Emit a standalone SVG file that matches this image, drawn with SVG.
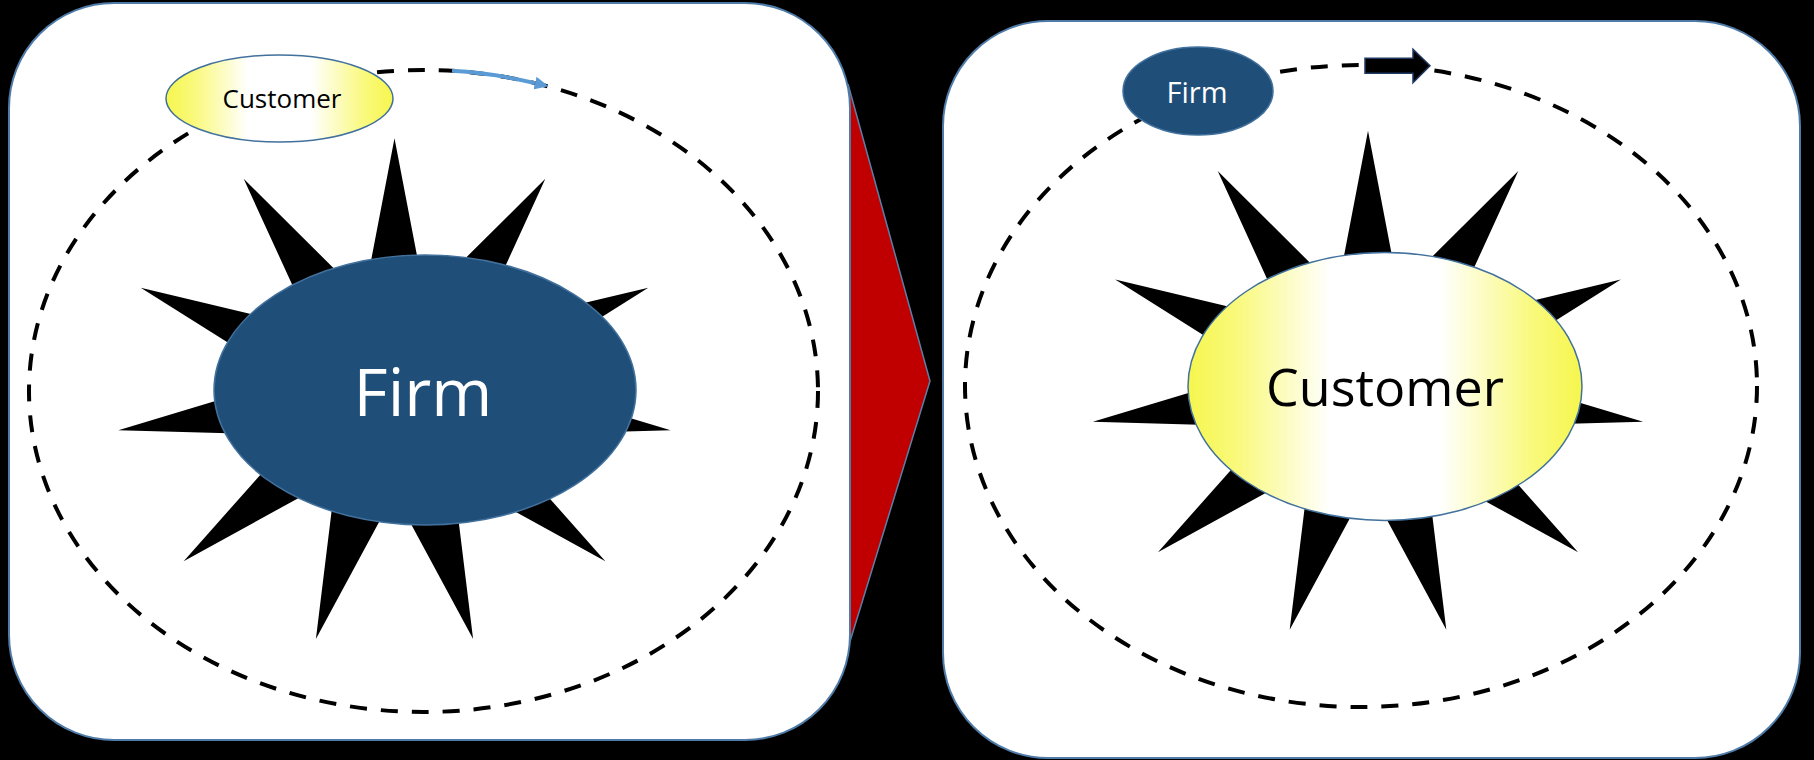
<svg xmlns="http://www.w3.org/2000/svg" width="1814" height="760" viewBox="0 0 1814 760">
<style>
.panel{fill:#ffffff;stroke:#4F7BA8;stroke-width:2}
.orbit{fill:none;stroke:#000000;stroke-width:4;stroke-dasharray:17 14}
.firm{fill:#1F4E79;stroke:#41719C;stroke-width:1.5}
.cust{fill:url(#yel);stroke:#41719C;stroke-width:1.5}
.star{fill:#000000}
.lbl{font-family:"Open Sans","Noto Sans","Liberation Sans",sans-serif;text-anchor:middle}
.w{fill:#ffffff}
.k{fill:#000000}
</style>
<defs>
<linearGradient id="yel" x1="0" y1="0" x2="1" y2="0">
<stop offset="0" stop-color="#F6F64E"/>
<stop offset="0.12" stop-color="#F9F97A"/>
<stop offset="0.36" stop-color="#FFFFFF"/>
<stop offset="0.64" stop-color="#FFFFFF"/>
<stop offset="0.88" stop-color="#F9F97A"/>
<stop offset="1" stop-color="#F6F64E"/>
</linearGradient>
<polygon id="star11" points="0,-100 10.99,-37.42 54.06,-84.13 29.47,-25.54 90.96,-41.54 38.6,-5.55 98.98,14.23 35.47,16.2 75.57,65.49 21.08,32.81 28.17,95.95 0,39 -28.17,95.95 -21.08,32.81 -75.57,65.49 -35.47,16.2 -98.98,14.23 -38.6,-5.55 -90.96,-41.54 -29.47,-25.54 -54.06,-84.13 -10.99,-37.42"/>
<marker id="bluehead" markerUnits="userSpaceOnUse" markerWidth="14" markerHeight="13" viewBox="0 0 14 13" refX="0" refY="6.5" orient="auto">
<path d="M0,0 L14,6.5 L0,13 z" fill="#5B9BD5"/>
</marker>
</defs>
<rect x="0" y="0" width="1814" height="760" fill="#000000"/>
<g id="transition-arrow">
<polygon points="848,84 930,381 848,648" fill="#C00000" stroke="#5B7FA6" stroke-width="1.5"/>
</g>
<g id="panel-left">
<rect class="panel" x="9" y="3" width="841" height="737" rx="105" ry="105"/>
<ellipse id="orbit-left" class="orbit" cx="423.5" cy="391" rx="394.5" ry="321"/>
<use id="star-left" class="star" href="#star11" transform="translate(394.5,393.8) scale(2.79,2.555)"/>
</g>
<g id="panel-right">
<rect class="panel" x="943" y="21" width="857" height="737" rx="105" ry="105"/>
<ellipse id="orbit-right" class="orbit" cx="1361" cy="386" rx="396" ry="321"/>
<use id="star-right" class="star" href="#star11" transform="translate(1368,385.4) scale(2.78,2.547)"/>
</g>
<g id="node-firm-center">
<ellipse class="firm" cx="425" cy="390" rx="211" ry="135"/>
<text class="lbl w" x="423" y="416" font-size="66">Firm</text>
</g>
<g id="node-customer-orbit">
<ellipse class="cust" cx="279.5" cy="98.5" rx="113.5" ry="43.5"/>
<text class="lbl k" x="282" y="108" font-size="26">Customer</text>
</g>
<g id="node-customer-center">
<ellipse class="cust" cx="1385" cy="386.5" rx="197" ry="134"/>
<text class="lbl k" x="1385" y="406" font-size="52">Customer</text>
</g>
<g id="node-firm-orbit">
<ellipse class="firm" cx="1198" cy="91" rx="75" ry="44"/>
<text class="lbl w" x="1197" y="102.5" font-size="29">Firm</text>
</g>
<g id="connectors">
<path d="M452,70.8 A394.5,321 0 0 1 535,83.1" fill="none" stroke="#5B9BD5" stroke-width="4" marker-end="url(#bluehead)"/>
<polygon points="1365,58.3 1413,58.3 1413,49.3 1430,65.8 1413,82.7 1413,73.3 1365,73.3" fill="#000000" stroke="#1F3864" stroke-width="1.5"/>
</g>
</svg>
